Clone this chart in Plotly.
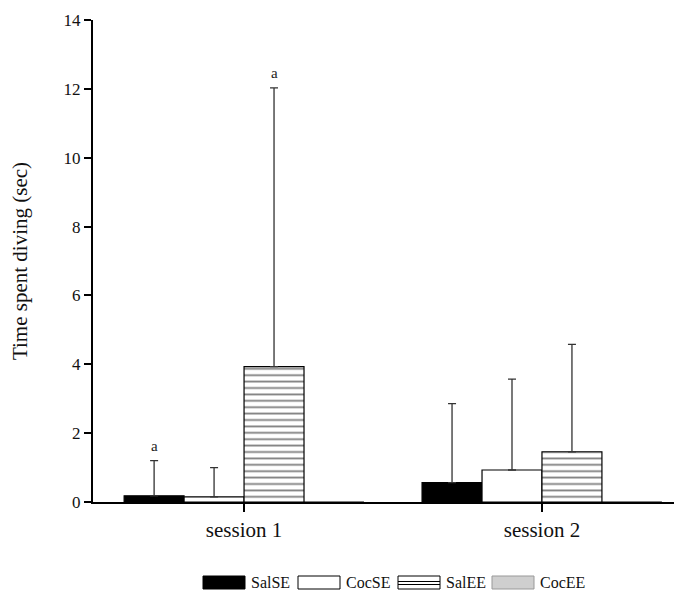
import plotly.graph_objects as go

sessions = ["session 1", "session 2"]
groups = ["SalSE", "CocSE", "SalEE", "CocEE"]
means = {
    "SalSE": [0.18, 0.56],
    "CocSE": [0.15, 0.93],
    "SalEE": [3.93, 1.46],
    "CocEE": [0.0, 0.0],
}
errors = {
    "SalSE": [1.02, 2.30],
    "CocSE": [0.85, 2.64],
    "SalEE": [8.10, 3.12],
    "CocEE": [0.0, 0.0],
}
letters = {"SalSE": ["a", ""], "SalEE": ["a", ""]}

FONT = "'Liberation Serif', 'DejaVu Serif', 'Times New Roman', serif"
W, H = 682, 590
OFF = 8  # page body margin offset
# target pixel layout in the screenshot
PL, PR, PT, PB = 93, 682, 20, 502
ML, MT = PL - OFF, PT - OFF
MR = W - (PR - OFF)
MB = H - (PB - OFF)
bargap = 0.195
xr = [-0.507, 1.47]

styles = {
    "SalSE": dict(color="black"),
    "CocSE": dict(color="white"),
    "SalEE": dict(color="white", pattern=dict(shape="-", fgcolor="black", bgcolor="white", size=6.4, solidity=0.28)),
    "CocEE": dict(color="#cfcfcf"),
}

fig = go.Figure()
xs = [0, 1]
for g in groups:
    st = styles[g]
    marker = dict(color=st["color"], line=dict(color="black", width=1.2))
    if "pattern" in st:
        marker["pattern"] = st["pattern"]
    has_err = any(e > 0 for e in errors[g])
    fig.add_trace(go.Bar(
        name=g, x=xs, y=means[g], marker=marker, showlegend=False,
        error_y=dict(type="data", array=errors[g], arrayminus=[0] * len(xs), symmetric=False,
                     color="#333333", thickness=1.3, width=4, visible=has_err),
    ))

# significance letters above error bars
bw = (1 - bargap) / len(groups)
ann = []
for gi, g in enumerate(groups):
    if g not in letters:
        continue
    for si, lab in enumerate(letters[g]):
        if not lab:
            continue
        xc = xs[si] + (gi - (len(groups) - 1) / 2) * bw
        ann.append(dict(x=xc, y=means[g][si] + errors[g][si], text=lab, showarrow=False,
                        yanchor="bottom", yshift=5, font=dict(family=FONT, size=15, color="#222")))

# custom legend swatches (paper coords from screenshot pixel layout)
pw, ph = PR - PL, PB - PT
def px(x):
    return (x - PL) / pw
def py(y):
    return (PB - y) / ph

shapes = []
sw_x = [203, 298, 398, 492]
sw_w = 42
y0, y1 = 576, 589
for g, x0 in zip(groups, sw_x):
    fill = {"SalSE": "black", "CocSE": "white", "SalEE": "white", "CocEE": "#cfcfcf"}[g]
    lc = "#999999" if g == "CocEE" else "black"
    shapes.append(dict(type="rect", xref="paper", yref="paper", x0=px(x0), x1=px(x0 + sw_w),
                       y0=py(y1), y1=py(y0), fillcolor=fill, line=dict(color=lc, width=1)))
    if g == "SalEE":
        for yy in (581.5, 584.5):
            shapes.append(dict(type="line", xref="paper", yref="paper", x0=px(x0), x1=px(x0 + sw_w),
                               y0=py(yy), y1=py(yy), line=dict(color="black", width=1)))
    ann.append(dict(xref="paper", yref="paper", x=px(x0 + sw_w + 4), y=py((y0 + y1) / 2), text=g,
                    showarrow=False, xanchor="left", yanchor="middle",
                    font=dict(family=FONT, size=16, color="#111")))

fig.update_layout(
    width=W, height=H,
    margin=dict(l=ML, r=MR, t=MT, b=MB, autoexpand=False),
    plot_bgcolor="white", paper_bgcolor="white",
    barmode="group", bargap=bargap, bargroupgap=0,
    font=dict(family=FONT, color="#111"),
    xaxis=dict(range=xr, tickvals=xs, ticktext=sessions, showline=True, linecolor="black", linewidth=2,
               ticks="outside", ticklen=8, tickwidth=2, tickcolor="black", showgrid=False, zeroline=False,
               automargin=False, tickfont=dict(family=FONT, size=21, color="#111")),
    yaxis=dict(range=[0, 14], dtick=2, showline=True, linecolor="black", linewidth=2,
               ticks="outside", ticklen=7, tickwidth=1.5, tickcolor="black", showgrid=False, zeroline=False,
               automargin=False, tickfont=dict(family=FONT, size=17, color="#111"),
               title=dict(text="Time spent diving (sec)", font=dict(family=FONT, size=21, color="#111"), standoff=30)),
    shapes=shapes, annotations=ann,
)

fig.write_html("out.html")
